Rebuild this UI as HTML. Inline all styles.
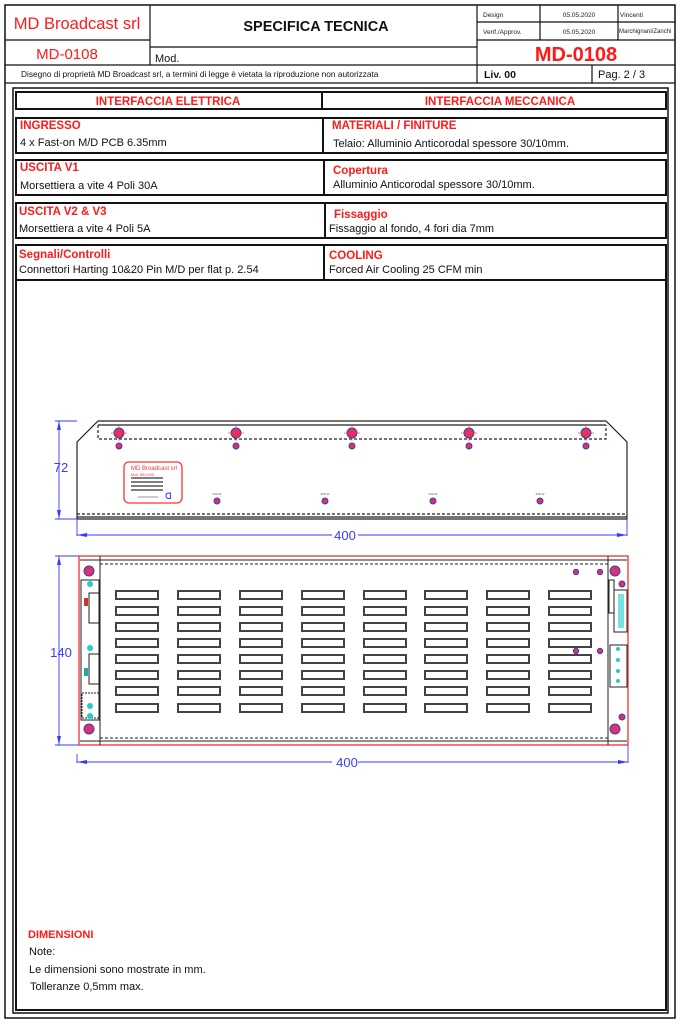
<!DOCTYPE html>
<html><head><meta charset="utf-8"><style>
html,body{margin:0;padding:0;background:#fff}
svg{display:block}
text{font-family:"Liberation Sans",sans-serif}
</style></head><body>
<svg width="681" height="1024" viewBox="0 0 681 1024" xmlns="http://www.w3.org/2000/svg">
<rect x="0" y="0" width="681" height="1024" fill="#fff"/>
<rect x="5" y="5" width="670" height="1013" fill="none" stroke="#111" stroke-width="1.5"/>
<g stroke="#111" stroke-width="1.2" fill="none">
<line x1="150" y1="5" x2="150" y2="65"/>
<line x1="477" y1="5" x2="477" y2="83"/>
<line x1="5" y1="40" x2="150" y2="40"/>
<line x1="150" y1="47" x2="477" y2="47"/>
<line x1="477" y1="22" x2="675" y2="22"/>
<line x1="477" y1="40" x2="675" y2="40"/>
<line x1="540" y1="5" x2="540" y2="40"/>
<line x1="618" y1="5" x2="618" y2="40"/>
<line x1="5" y1="65" x2="675" y2="65"/>
<line x1="5" y1="83" x2="675" y2="83"/>
<line x1="592" y1="65" x2="592" y2="83"/>
</g>
<text x="77" y="29" fill="#ff1a1a" font-size="16.5" text-anchor="middle">MD Broadcast srl</text>
<text x="316" y="31" fill="#111" font-size="14.5" font-weight="bold" text-anchor="middle">SPECIFICA TECNICA</text>
<text x="483" y="17" font-size="6.5" fill="#222">Design</text>
<text x="579" y="17" font-size="6.5" fill="#222" text-anchor="middle">05.05.2020</text>
<text x="620" y="17" font-size="6.5" fill="#222">Vincenti</text>
<text x="483" y="34" font-size="6.5" fill="#222">Verif./Approv.</text>
<text x="579" y="34" font-size="6.5" fill="#222" text-anchor="middle">05.05.2020</text>
<text x="619" y="33" font-size="6" fill="#222">Marchignani/Zanchi</text>
<text x="67" y="59" fill="#ff1a1a" font-size="15" text-anchor="middle">MD-0108</text>
<text x="155" y="62" fill="#111" font-size="11">Mod.</text>
<text x="576" y="61" fill="#ff1a1a" font-size="20" font-weight="bold" text-anchor="middle">MD-0108</text>
<text x="21" y="77" font-size="8.3" fill="#111">Disegno di proprietà MD Broadcast srl, a termini di legge è vietata la riproduzione non autorizzata</text>
<text x="484" y="78" font-size="10.5" font-weight="bold" fill="#111">Liv. 00</text>
<text x="598" y="78" font-size="11" fill="#111">Pag. 2 / 3</text>
<rect x="13" y="88" width="655" height="925" fill="none" stroke="#111" stroke-width="1.5"/>
<g stroke="#111" stroke-width="2" fill="none">
<rect x="16" y="92" width="650" height="17"/>
<line x1="322" y1="92" x2="322" y2="109"/>
<rect x="16" y="118" width="650" height="35"/>
<line x1="323" y1="118" x2="323" y2="153"/>
<rect x="16" y="160" width="650" height="35"/>
<line x1="324" y1="160" x2="324" y2="195"/>
<rect x="16" y="203" width="650" height="35"/>
<line x1="325" y1="203" x2="325" y2="238"/>
<rect x="16" y="245" width="650" height="765"/>
<line x1="324" y1="245" x2="324" y2="280"/>
<line x1="16" y1="280" x2="666" y2="280"/>
</g>
<g fill="#ff1a1a" font-weight="bold" font-size="11.5">
<text x="168" y="105" text-anchor="middle">INTERFACCIA ELETTRICA</text>
<text x="500" y="105" text-anchor="middle">INTERFACCIA MECCANICA</text>
<text x="20" y="129">INGRESSO</text>
<text x="332" y="129">MATERIALI / FINITURE</text>
<text x="20" y="171">USCITA V1</text>
<text x="333" y="174">Copertura</text>
<text x="19" y="215">USCITA V2 &amp; V3</text>
<text x="334" y="218">Fissaggio</text>
<text x="19" y="258">Segnali/Controlli</text>
<text x="329" y="259">COOLING</text>
</g>
<g fill="#111" font-size="11">
<text x="20" y="146">4 x Fast-on M/D PCB 6.35mm</text>
<text x="333" y="147">Telaio:  Alluminio Anticorodal spessore 30/10mm.</text>
<text x="20" y="189">Morsettiera a vite 4 Poli 30A</text>
<text x="333" y="188">Alluminio Anticorodal spessore 30/10mm.</text>
<text x="19" y="232">Morsettiera a vite 4 Poli 5A</text>
<text x="329" y="232">Fissaggio al fondo, 4 fori dia 7mm</text>
<text x="19" y="273">Connettori Harting 10&amp;20 Pin M/D per flat p. 2.54</text>
<text x="329" y="273">Forced Air Cooling 25 CFM min</text>
</g>
<g fill="none" stroke="#222" stroke-width="1.2">
<polyline points="77,519 77,442 98,421 606,421 627,442 627,519 77,519"/>
<line x1="98" y1="425" x2="606" y2="425"/>
<line x1="77" y1="517" x2="627" y2="517"/>
<polyline points="98,425 98,439 606,439 606,425" stroke-dasharray="3,2"/>
<line x1="77" y1="514" x2="627" y2="514" stroke-dasharray="3,2"/>
</g>
<g>
<g id="scr"><circle cx="119" cy="433" r="5" fill="#e0306a" stroke="#3344aa"/><line x1="111" y1="433" x2="127" y2="433" stroke="#f33" stroke-width="0.6"/><line x1="119" y1="425" x2="119" y2="441" stroke="#f33" stroke-width="0.6"/><circle cx="119" cy="446" r="3" fill="#e0306a" stroke="#3344aa"/></g>
<use href="#scr" x="117"/><use href="#scr" x="233"/><use href="#scr" x="350"/><use href="#scr" x="467"/>
<g fill="#e0306a" stroke="#3344aa"><circle cx="217" cy="501" r="3"/><circle cx="325" cy="501" r="3"/><circle cx="433" cy="501" r="3"/><circle cx="540" cy="501" r="3"/></g>
<g font-size="3" fill="#555" text-anchor="middle"><text x="217" y="495">IND.W</text><text x="325" y="495">IND.W</text><text x="433" y="495">IND.W</text><text x="540" y="495">IND.W</text></g>
<rect x="124" y="462" width="58" height="41" rx="5" fill="#fff" stroke="#f33" stroke-width="1.3"/>
<text x="131" y="470" font-size="6" fill="#f33">MD Broadcast srl</text>
<text x="131" y="476" font-size="3.5" fill="#f33">Mod. MD-0108</text>
<g stroke="#333" stroke-width="1.2"><line x1="131" y1="478" x2="163" y2="478"/><line x1="131" y1="482" x2="163" y2="482"/><line x1="131" y1="486" x2="163" y2="486"/><line x1="131" y1="490" x2="163" y2="490"/><line x1="138" y1="497" x2="158" y2="497" stroke-width="0.5"/></g>
<text x="165" y="499" font-size="9" fill="#33c">ᗡ</text>
</g>
<g stroke="#3a3aff" fill="#3a3aff" stroke-width="0.9">
<line x1="59" y1="421" x2="59" y2="519"/><line x1="55" y1="421" x2="77" y2="421"/><line x1="55" y1="519" x2="77" y2="519"/>
<line x1="77" y1="519" x2="77" y2="536"/><line x1="627" y1="519" x2="627" y2="536"/>
<line x1="77" y1="535" x2="332" y2="535"/><line x1="358" y1="535" x2="627" y2="535"/>
<line x1="77" y1="754" x2="77" y2="763" /><line x1="628" y1="745" x2="628" y2="763"/>
<line x1="77" y1="762" x2="332" y2="762"/><line x1="358" y1="762" x2="628" y2="762"/>
<line x1="59" y1="556" x2="59" y2="745"/>
<line x1="55" y1="556" x2="79" y2="556"/><line x1="55" y1="745" x2="79" y2="745"/>
<polygon points="59,421 57,430 61,430" stroke="none"/><polygon points="59,519 57,510 61,510" stroke="none"/>
<polygon points="59,556 57,565 61,565" stroke="none"/><polygon points="59,745 57,736 61,736" stroke="none"/>
<polygon points="77,535 87,533 87,537" stroke="none"/><polygon points="627,535 617,533 617,537" stroke="none"/>
<polygon points="77,762 87,760 87,764" stroke="none"/><polygon points="628,762 618,760 618,764" stroke="none"/>
</g>
<g font-size="13" fill="#3a3aff" text-anchor="middle">
<text x="61" y="472">72</text><text x="345" y="540">400</text>
<text x="61" y="657">140</text><text x="347" y="767">400</text>
</g>
<rect x="79" y="556" width="549" height="189" fill="none" stroke="#e33" stroke-width="1.3"/>
<g fill="none" stroke="#222" stroke-width="1">
<line x1="100" y1="556" x2="100" y2="745"/><line x1="608" y1="556" x2="608" y2="745"/>
<line x1="80" y1="560" x2="627" y2="560"/><line x1="80" y1="741" x2="627" y2="741"/>
<line x1="100" y1="564" x2="608" y2="564" stroke-dasharray="3,2"/>
<line x1="100" y1="738" x2="608" y2="738" stroke-dasharray="3,2"/>
<rect x="81" y="580" width="18" height="140"/>
<rect x="89" y="593" width="10" height="30"/><rect x="89" y="654" width="10" height="30"/>
<rect x="82" y="693" width="17" height="25" stroke-dasharray="2,1"/>
<rect x="609" y="580" width="5" height="33"/><rect x="614" y="590" width="13" height="42"/>
<rect x="610" y="645" width="17" height="42"/>
</g>
<g fill="#e0306a" stroke="#3344aa"><circle cx="89" cy="571" r="5"/><circle cx="89" cy="729" r="5"/><circle cx="615" cy="571" r="5"/><circle cx="615" cy="729" r="5"/><circle cx="622" cy="584" r="3"/><circle cx="622" cy="717" r="3"/><circle cx="576" cy="572" r="2.7"/><circle cx="600" cy="572" r="2.7"/><circle cx="576" cy="651" r="2.7"/><circle cx="600" cy="651" r="2.7"/></g>
<g fill="#2cc"><circle cx="90" cy="584" r="3"/><circle cx="90" cy="648" r="3"/><circle cx="90" cy="706" r="3"/><circle cx="90" cy="716" r="3"/><circle cx="618" cy="649" r="2"/><circle cx="618" cy="660" r="2"/><circle cx="618" cy="671" r="2"/><circle cx="618" cy="681" r="2"/></g>
<rect x="84" y="598" width="4" height="8" fill="#c33"/><rect x="84" y="668" width="4" height="8" fill="#2aa"/>
<g fill="#2cc"><rect x="618" y="594" width="6" height="34" opacity="0.6"/></g>
<g fill="#fff" stroke="#444" stroke-width="2">
<g id="col">
<rect x="116" y="591" width="42" height="8"/><rect x="116" y="607" width="42" height="8"/><rect x="116" y="623" width="42" height="8"/><rect x="116" y="639" width="42" height="8"/><rect x="116" y="655" width="42" height="8"/><rect x="116" y="671" width="42" height="8"/><rect x="116" y="687" width="42" height="8"/><rect x="116" y="704" width="42" height="8"/>
</g>
<use href="#col" x="62"/><use href="#col" x="124"/><use href="#col" x="186"/><use href="#col" x="248"/><use href="#col" x="309"/><use href="#col" x="371"/><use href="#col" x="433"/>
</g>
<text x="28" y="938" fill="#ff1a1a" font-size="11" font-weight="bold">DIMENSIONI</text>
<g fill="#111" font-size="11"><text x="29" y="955">Note:</text><text x="29" y="973">Le dimensioni sono mostrate in mm.</text><text x="30" y="990">Tolleranze 0,5mm max.</text></g>
</svg>
</body></html>
